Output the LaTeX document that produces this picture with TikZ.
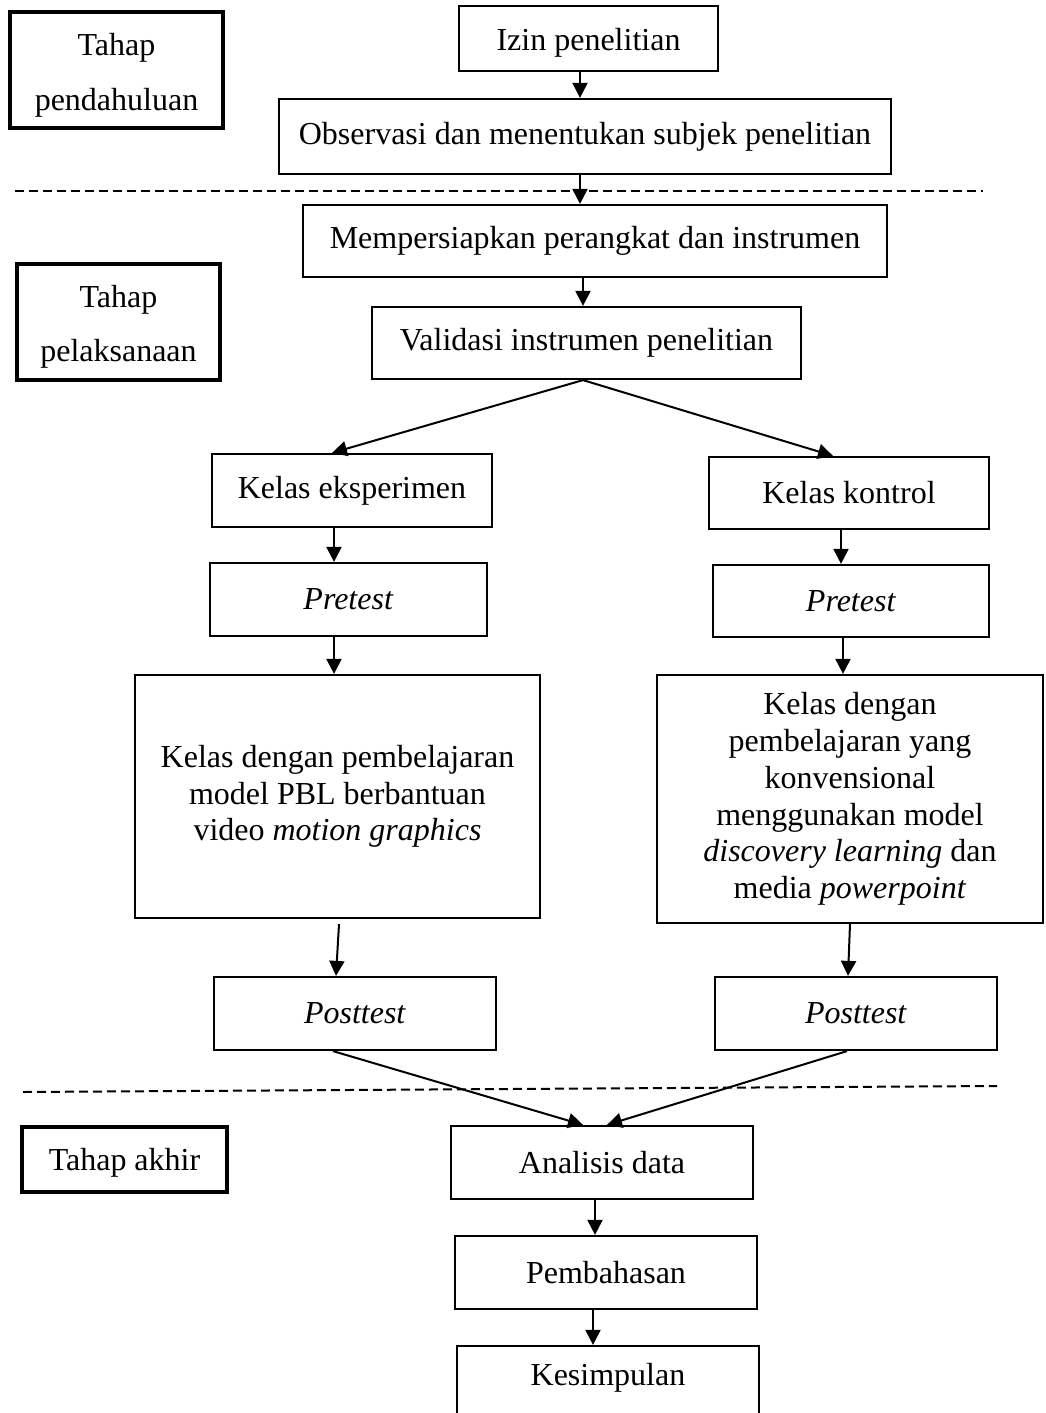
\documentclass[tikz,border=0pt]{standalone}
\usepackage{fontspec}
\setmainfont{Liberation Serif}
\usetikzlibrary{arrows.meta,calc}
\tikzset{
  bx/.style={draw, line width=2.2pt, inner sep=0pt, align=center},
  phase/.style={draw, line width=4.5pt, inner sep=0pt, align=center},
  arr/.style={line width=2pt, -{Triangle[length=15pt,width=15pt]}},
  sep/.style={line width=2pt, dash pattern=on 9pt off 5pt},
  every node/.style={font=\fontsize{32}{36.7}\selectfont}
}
\newcommand\mybox[7]{%
  \node[#6, minimum width={(#3-#2)*1pt}, minimum height={(#5-#4)*1pt}] (#1) at ({(#2+#3)/2},{(#4+#5)/2}) {#7};}
\begin{document}
\begin{tikzpicture}[x=1pt,y=-1pt]
\clip (0,0) rectangle (1045,1413);
\fill[white] (0,0) rectangle (1045,1413);
% phase boxes
\mybox{pend}{10}{223}{12}{128}{phase}{}
\node[align=center, font=\fontsize{32}{55}\selectfont] (pendt) at ($(pend.center)+(0,5)$) {Tahap\\pendahuluan};
\mybox{pel}{17}{220}{264}{380}{phase}{}
\node[align=center, font=\fontsize{32}{54}\selectfont] (pelt) at ($(pel.center)+(0,5)$) {Tahap\\pelaksanaan};
\mybox{akhir}{22}{227}{1127}{1192}{phase}{}
\node (akhirt) at ($(akhir.center)+(0,3)$) {Tahap akhir};
% main boxes
\mybox{izin}{459}{718}{6}{71}{bx}{}
\node (izint) at ($(izin.center)+(0,4)$) {Izin penelitian};
\mybox{obs}{279}{891}{99}{174}{bx}{Observasi dan menentukan subjek penelitian}
\mybox{mem}{303}{887}{205}{277}{bx}{Mempersiapkan perangkat dan instrumen}
\mybox{val}{372}{801}{307}{379}{bx}{Validasi instrumen penelitian}
\mybox{ke}{212}{492}{454}{527}{bx}{Kelas eksperimen}
\mybox{kk}{709}{989}{457}{529}{bx}{Kelas kontrol}
\mybox{preL}{210}{487}{563}{636}{bx}{\textit{Pretest}}
\mybox{preR}{713}{989}{565}{637}{bx}{\textit{Pretest}}
\mybox{bigL}{135}{540}{675}{918}{bx}{Kelas dengan pembelajaran\\model PBL berbantuan\\video \textit{motion graphics}}
\mybox{bigR}{657}{1043}{675}{923}{bx}{Kelas dengan\\pembelajaran yang\\konvensional\\menggunakan model\\\textit{discovery learning} dan\\media \textit{powerpoint}}
\mybox{postL}{214}{496}{977}{1050}{bx}{\textit{Posttest}}
\mybox{postR}{715}{997}{977}{1050}{bx}{\textit{Posttest}}
\mybox{ana}{451}{753}{1126}{1199}{bx}{Analisis data}
\mybox{pem}{455}{757}{1236}{1309}{bx}{Pembahasan}
\node[bx, minimum width=302pt, minimum height=130pt, text height=0pt, text depth=0pt] (kes) at (608,1411) {};
\node at (608,1378) (kest) {Kesimpulan};
% separators
\coordinate (d1a) at (15,191); \coordinate (d1b) at (983,191);
\coordinate (d2a) at (23,1092); \coordinate (d2b) at (997,1086);
\draw[sep] (d1a) -- (d1b);
\draw[sep] (d2a) -- (d2b);
% arrows
\draw[arr] (izin.south -| 580,0) -- (obs.north -| 580,0);
\draw[arr] (obs.south -| 580,0) -- (mem.north -| 580,0);
\draw[arr] (mem.south -| 583,0) -- (val.north -| 583,0);
\draw[arr] (val.south -| 583,0) -- (ke.north -| 332,0);
\draw[arr] (val.south -| 583,0) -- (kk.north -| 833,0);
\draw[arr] (ke.south -| 334,0) -- (preL.north -| 334,0);
\draw[arr] (kk.south -| 841,0) -- (preR.north -| 841,0);
\draw[arr] (preL.south -| 334,0) -- (bigL.north -| 334,0);
\draw[arr] (preR.south -| 843,0) -- (bigR.north -| 843,0);
\draw[arr] ($(bigL.south -| 339,0)+(0,5)$) -- (postL.north -| 336,0);
\draw[arr] (bigR.south -| 850,0) -- (postR.north -| 848,0);
\draw[arr] (postL.south -| 333,0) -- (ana.north -| 583,0);
\draw[arr] (postR.south -| 847,0) -- (ana.north -| 607,0);
\draw[arr] (ana.south -| 595,0) -- (pem.north -| 595,0);
\draw[arr] (pem.south -| 593,0) -- (kes.north -| 593,0);
\end{tikzpicture}
\end{document}
